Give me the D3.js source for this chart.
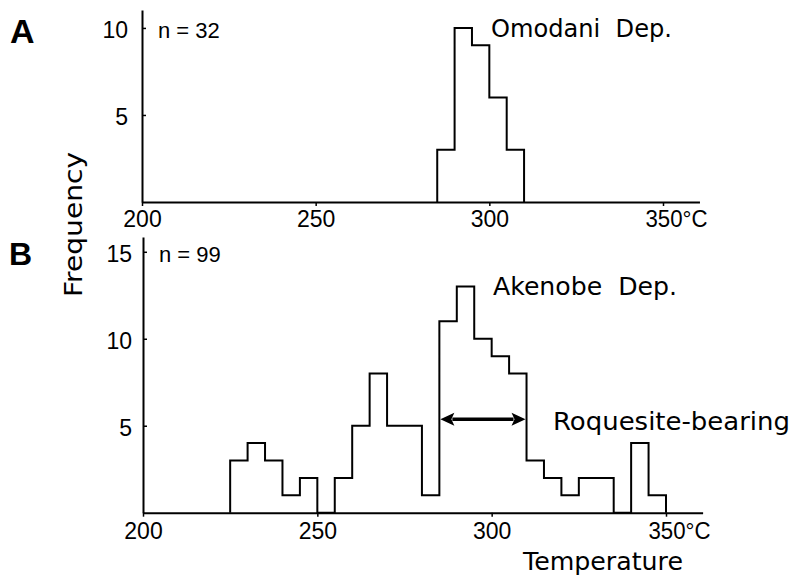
<!DOCTYPE html>
<html>
<head>
<meta charset="utf-8">
<script src="https://cdn.jsdelivr.net/npm/d3@7"></script>
<style>
  html, body { margin: 0; padding: 0; background: #fff; }
  svg { display: block; }
</style>
</head>
<body>
<svg id="chart" width="796" height="575"></svg>
<script>
// ---- data ----
const binWidth = 5;
const binStartsA = [285, 290, 295, 300, 305];
const countsA    = [3, 10, 9, 6, 3];
const binStartsB = [225, 230, 235, 240, 245, 250, 255, 260, 265, 270, 275, 280,
                    285, 290, 295, 300, 305, 310, 315, 320, 325, 330, 335, 340, 345];
const countsB    = [3, 4, 3, 1, 2, 0, 2, 5, 8, 5, 5, 1,
                    11, 13, 10, 9, 8, 3, 2, 1, 2, 2, 0, 4, 1];
const xTicks  = [200, 250, 300, 350];
const yTicksA = [5, 10];
const yTicksB = [5, 10, 15];
const labelA = "Omodani Dep.";
const labelB = "Akenobe Dep.";
const nA = "n = 32";
const nB = "n = 99";
const roqRange = [285, 310];
const roqLevel = 5.37;
const roqLabel = "Roquesite-bearing";

// ---- layout ----
const svg = d3.select("#chart");
const numFont = "'Liberation Sans', Arial, sans-serif";
const wordFont = "'DejaVu Sans', sans-serif";

const panels = [
  { starts: binStartsA, counts: countsA, yTicks: yTicksA, yMax: 11.03,
    xr: [142, 663], base: 202, top: 10, name: labelA, n: nA },
  { starts: binStartsB, counts: countsB, yTicks: yTicksB, yMax: 15.85,
    xr: [143, 666], base: 512.7, top: 237, name: labelB, n: nB }
];

panels.forEach((p, i) => {
  const x = d3.scaleLinear().domain([200, 350]).range(p.xr);
  const xEnd = x(360.5);
  const y = d3.scaleLinear().domain([0, p.yMax]).range([p.base, p.top]);
  p.x = x; p.y = y;
  const g = svg.append("g");

  // x axis
  const xAxisScale = d3.scaleLinear().domain([200, 360.5]).range([x(200), xEnd]);
  const xg = g.append("g").attr("transform", `translate(0,${p.base})`)
    .call(d3.axisBottom(xAxisScale).tickValues(xTicks).tickSize(4).tickSizeOuter(0)
      .tickFormat(d => d === 350 ? "350°C" : d));
  xg.select(".domain").attr("stroke-width", 2);
  xg.selectAll(".tick line").attr("stroke-width", 1.5);
  xg.selectAll(".tick text")
    .attr("font-family", numFont).attr("font-size", 23).attr("fill", "#000")
    .attr("y", 0).attr("dy", i === 0 ? 25 : 26)
    .each(function(d) {
      if (d === 350) d3.select(this).attr("text-anchor", "start").attr("x", -18)
        .attr("textLength", 62).attr("lengthAdjust", "spacingAndGlyphs");
    });

  // y axis
  const yg = g.append("g").attr("transform", `translate(${x(200)},0)`)
    .call(d3.axisLeft(y).tickValues(p.yTicks).tickSize(-4).tickSizeOuter(0).tickPadding(i === 0 ? 14 : 11));
  yg.select(".domain").attr("stroke-width", 2);
  yg.selectAll(".tick line").attr("stroke-width", 1.5);
  yg.selectAll(".tick text")
    .attr("font-family", numFont).attr("font-size", 23).attr("fill", "#000")
    .attr("dy", 10);

  // histogram outline
  const pts = [[p.starts[0], 0]];
  p.starts.forEach((s, k) => pts.push([s, p.counts[k]]));
  pts.push([p.starts[p.starts.length - 1] + binWidth, 0]);
  const line = d3.line().x(d => x(d[0])).y(d => y(d[1])).curve(d3.curveStepAfter);
  g.append("path").attr("d", line(pts))
    .attr("fill", "none").attr("stroke", "#000").attr("stroke-width", 2)
    .attr("stroke-linejoin", "miter");

  // labels
  g.append("text").attr("x", x(200) + 16).attr("y", i === 0 ? 38 : 262)
    .attr("font-family", numFont).attr("font-size", 22)
    .text(p.n);
  g.append("text").attr("x", i === 0 ? 491 : 493).attr("y", i === 0 ? 37 : 295)
    .attr("font-family", wordFont).attr("font-size", 24.5)
    .attr("textLength", i === 0 ? 181 : 184).attr("lengthAdjust", "spacingAndGlyphs")
    .attr("xml:space", "preserve")
    .text(p.name.replace(" ", "  "));
});

// panel letters
svg.append("text").attr("x", 10).attr("y", 43)
  .attr("font-family", numFont).attr("font-weight", "bold").attr("font-size", 34).text("A");
svg.append("text").attr("x", 9).attr("y", 265)
  .attr("font-family", numFont).attr("font-weight", "bold").attr("font-size", 32).text("B");

// axis titles
svg.append("text").attr("transform", "translate(82,297) rotate(-90)")
  .attr("font-family", wordFont).attr("font-size", 25)
  .attr("textLength", 145).attr("lengthAdjust", "spacingAndGlyphs")
  .text("Frequency");
svg.append("text").attr("x", 523).attr("y", 570)
  .attr("font-family", wordFont).attr("font-size", 24.5)
  .attr("textLength", 160).attr("lengthAdjust", "spacingAndGlyphs")
  .text("Temperature");

// roquesite arrow
const pb = panels[1];
const ax0 = pb.x(roqRange[0]) + 1, ax1 = pb.x(roqRange[1]) - 1, ay = pb.y(roqLevel);
const ah = 14, aw = 6.5;
svg.append("line").attr("x1", ax0 + ah - 2).attr("x2", ax1 - ah + 2).attr("y1", ay).attr("y2", ay)
  .attr("stroke", "#000").attr("stroke-width", 3.5);
svg.append("path").attr("d", `M${ax0},${ay} L${ax0 + ah},${ay - aw} L${ax0 + ah - 3},${ay} L${ax0 + ah},${ay + aw} Z`)
  .attr("fill", "#000");
svg.append("path").attr("d", `M${ax1},${ay} L${ax1 - ah},${ay - aw} L${ax1 - ah + 3},${ay} L${ax1 - ah},${ay + aw} Z`)
  .attr("fill", "#000");
svg.append("text").attr("x", 553).attr("y", 430)
  .attr("font-family", wordFont).attr("font-size", 24.5)
  .attr("textLength", 237).attr("lengthAdjust", "spacingAndGlyphs")
  .text(roqLabel);
</script>
</body>
</html>
